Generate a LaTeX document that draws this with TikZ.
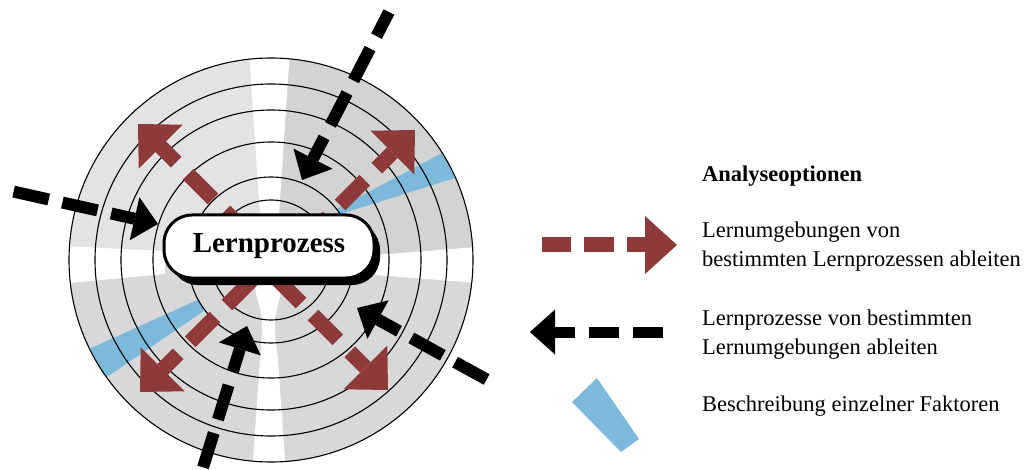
\documentclass[tikz,border=0pt]{standalone}
\usepackage{fontspec}
\setmainfont{Liberation Serif}
\usetikzlibrary{calc,shadows}

\definecolor{arrowred}{HTML}{8E3A3A}
\definecolor{factorblue}{HTML}{7DB9DA}
\definecolor{ringlight}{HTML}{E3E3E3}
\definecolor{ringdark}{HTML}{D3D3D3}
\definecolor{ringmid}{HTML}{D8D8D8}

\tikzset{
  redshaft/.style={draw=arrowred, line width=15pt, dash pattern=on 35pt off 17pt, dash phase=13pt},
  blackshaft/.style={draw=black, line width=12pt, dash pattern=on 36pt off 14pt, dash phase=12pt},
  legredshaft/.style={draw=arrowred, line width=15pt, dash pattern=on 30pt off 13pt, dash phase=12pt},
  legblackshaft/.style={draw=black, line width=11pt, dash pattern=on 30pt off 14pt, dash phase=10pt},
  ring/.style={draw=black, line width=1.1pt},
  legendtext/.style={anchor=base west, inner sep=0pt, font=\fontsize{22.5}{29}\selectfont},
  processbox/.style={draw=black, line width=3pt, fill=white, rounded corners=28pt,
    minimum width=210pt, minimum height=63pt, inner sep=0pt,
    font=\bfseries\fontsize{29}{34}\selectfont,
    drop shadow={shadow xshift=6pt, shadow yshift=-7pt, fill=black, opacity=1}},
}

% dashed arrow: #1 tip, #2 tail, #3 head length, #4 head half width,
% #5 head colour, #6 shaft style, #7 name of the head base
\newcommand{\dashedarrow}[7]{%
  \coordinate (#7) at ($(#1)!#3!(#2)$);
  \draw[#6] (#7) -- (#2);
  \fill[#5] (#1) -- ($(#7)!#4!90:(#1)$) -- ($(#7)!#4!-90:(#1)$) -- cycle;
}

\begin{document}
\begin{tikzpicture}[x=1pt, y=-1pt]
\fill[white] (0,0) rectangle (1030,470);
\useasboundingbox (0,0) rectangle (1030,470);

\coordinate (C) at (271,260);

% shaded disk with white separating bands
\begin{scope}
  \clip (C) circle[radius=202pt];
  \fill[ringmid] (60,262) rectangle (490,480);
  \fill[ringlight] (60,40) rectangle (270,265);
  \fill[ringdark] (270,40) rectangle (490,265);
  \fill[white] (249,50) -- (290,50) -- (279,215) -- (279,262) -- (260,262) -- (260,215) -- cycle;
  \fill[white] (60,246) -- (165,251) -- (165,274) -- (60,284) -- cycle;
  \fill[white] (490,246) -- (375,255) -- (375,275) -- (490,284) -- cycle;
  \fill[white] (252,475) -- (260,360) .. controls (262,335) .. (262,322)
     .. controls (262,310) and (257,303) .. (254,282) -- (282,282)
     .. controls (280,303) and (275,310) .. (275,322)
     .. controls (275,335) .. (278,360) -- (286,475) -- cycle;
\end{scope}

% single factors (blue sectors of the rings)
\begin{scope}
  \clip (306,225) -- (480,133) -- (480,170) -- cycle;
  \fill[factorblue, even odd rule] (C) circle[radius=202pt] (C) circle[radius=83pt];
\end{scope}
\begin{scope}
  \clip (264,270) -- (60,362) -- (60,409) -- cycle;
  \fill[factorblue, even odd rule] (C) circle[radius=202pt] (C) circle[radius=83pt];
\end{scope}

% rings
\foreach \r in {202,176,150,118,83,60}
  \draw[ring] (C) circle[radius=\r pt];

% red arrows: from the process outwards
\coordinate (rtl) at (138,124);   \coordinate (rtls) at (250.4,236.4);
\coordinate (rtr) at (415,130);   \coordinate (rtrs) at (302.6,242.4);
\coordinate (rbl) at (140,392);   \coordinate (rbls) at (252.4,279.6);
\coordinate (rbr) at (388,390);   \coordinate (rbrs) at (275.6,277.6);
\dashedarrow{rtl}{rtls}{32pt}{31pt}{arrowred}{redshaft}{rtlb}
\dashedarrow{rtr}{rtrs}{32pt}{31pt}{arrowred}{redshaft}{rtrb}
\dashedarrow{rbl}{rbls}{32pt}{31pt}{arrowred}{redshaft}{rblb}
\dashedarrow{rbr}{rbrs}{32pt}{31pt}{arrowred}{redshaft}{rbrb}

% the learning process
\node[processbox] (box) at (269,246.5) {Lernprozess};

% black arrows: from the environment inwards
\coordinate (btop) at (302,180);  \coordinate (btops) at (389,12);
\coordinate (bleft) at (158,224); \coordinate (blefts) at (11,191);
\coordinate (bbot) at (247,326);  \coordinate (bbots) at (201,474);
\coordinate (bright) at (357,308);\coordinate (brights) at (493,383);
\dashedarrow{btop}{btops}{24pt}{22pt}{black}{blackshaft}{btopb}
\dashedarrow{bleft}{blefts}{24pt}{22pt}{black}{blackshaft}{bleftb}
\dashedarrow{bbot}{bbots}{24pt}{22pt}{black}{blackshaft}{bbotb}
\dashedarrow{bright}{brights}{24pt}{22pt}{black}{blackshaft}{brightb}

% legend
\node[legendtext, font=\bfseries\fontsize{22.5}{29}\selectfont] (legtitle) at (702,181.7) {Analyseoptionen};

\coordinate (lrtip) at (677,245); \coordinate (lrtail) at (542,245);
\dashedarrow{lrtip}{lrtail}{32pt}{29pt}{arrowred}{legredshaft}{lrbase}
\node[legendtext] (legred1) at (702,237.3) {Lernumgebungen von};
\node[legendtext] (legred2) at (702,266.7) {bestimmten Lernprozessen ableiten};

\coordinate (lbtip) at (530,332); \coordinate (lbtail) at (663,332);
\dashedarrow{lbtip}{lbtail}{25pt}{22.5pt}{black}{legblackshaft}{lbbase}
\node[legendtext] (legblack1) at (702,325.7) {Lernprozesse von bestimmten};
\node[legendtext] (legblack2) at (702,354) {Lernumgebungen ableiten};

\fill[factorblue] (597,378) -- (639,439) -- (621,452) -- (572,402) -- cycle;
\node[legendtext] (legblue) at (702,411.7) {Beschreibung einzelner Faktoren};
\end{tikzpicture}
\end{document}
